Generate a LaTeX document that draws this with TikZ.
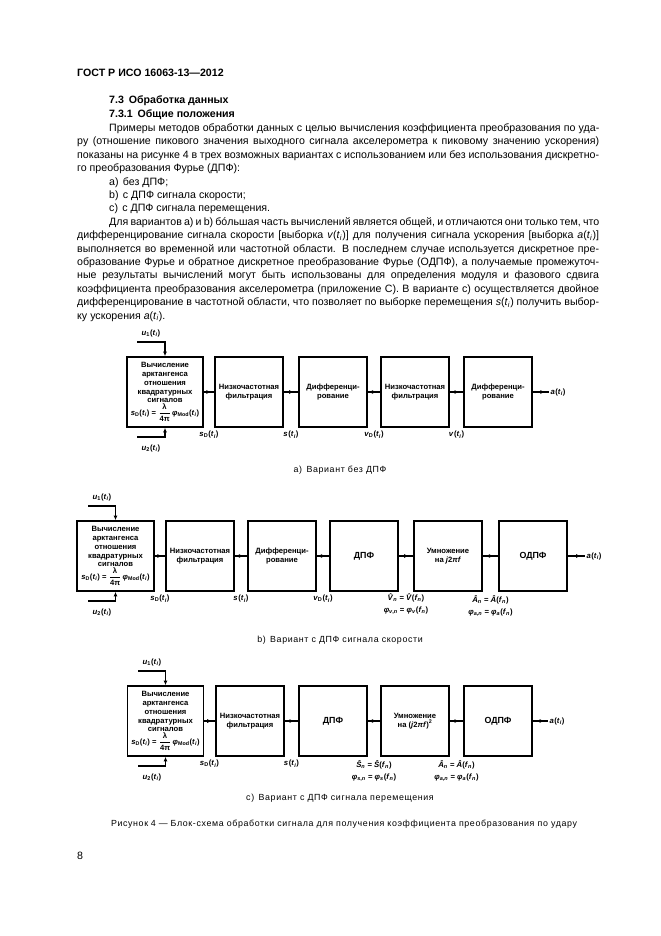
\documentclass[tikz,border=0pt]{standalone}
\usepackage{fontspec}
\usepackage{amsmath}
\setmainfont{Liberation Sans}
\newfontfamily\capfont[LetterSpace=7]{Liberation Sans}
\usetikzlibrary{arrows.meta,decorations.markings}

\tikzset{
	blockbox/.style={draw, line width=1.5pt, minimum width=21.6mm, minimum height=22.2mm, inner sep=1pt, align=center, font=\myfontbox},
	calcbox/.style={blockbox, minimum width=24.1mm},
	bigbox/.style={blockbox, font=\myfontbig},
	conn/.style={line width=1.1pt, postaction={decorate}, decoration={markings, mark=at position #1 with {\arrow{Latex[length=4.2pt,width=3.6pt]}}}},
	conn/.default=0.7,
	feed/.style={line width=1.1pt, -{Latex[length=4.2pt,width=3.6pt]}},
	feedin/.style={line width=1.1pt, {Latex[length=4.2pt,width=3.6pt]}-},
	siglabel/.style={inner sep=0pt, align=center, font=\myfontsig},
	textline/.style={anchor=base west, inner sep=0pt, font=\myfonttext},
	capline/.style={anchor=base, inner sep=0pt, font=\myfontcap}
}

\begin{document}
\begin{tikzpicture}[x=0.3175mm, y=-0.3175mm]
		\newcommand{\myfonttext}{\fontsize{9.6}{12}\selectfont}
		\newcommand{\myfontbox}{\fontsize{6.9}{7.9}\selectfont\bfseries}
		\newcommand{\myfontbig}{\fontsize{8}{9}\selectfont\bfseries}
		\newcommand{\myfontsig}{\fontsize{7}{10.8}\selectfont\bfseries}
		\newcommand{\myfontcap}{\fontsize{8}{10}\capfont}
		\newcommand{\smp}[1]{\textit{#1}(\textit{t}\textsubscript{\textit{i}})}
		\newcommand{\sig}[2]{\textit{#1}\textsubscript{#2}(\textit{t}\textsubscript{\textit{i}})}
		\newcommand{\hatted}[1]{\ooalign{\textit{#1}\cr\hidewidth\raisebox{0.2em}{ˆ}\hidewidth\cr}}
		\newcommand{\spec}[1]{#1\textsubscript{\textit{n}} = #1(\textit{f}\textsubscript{\textit{n}})}
		\newcommand{\phs}[1]{\textit{φ}\textsubscript{\textit{#1},\textit{n}} = \textit{φ}\textsubscript{\textit{#1}}(\textit{f}\textsubscript{\textit{n}})}
		\newcommand{\modform}{\sig{s}{D} = $\dfrac{\text{λ}}{\text{4π}}$\,\textit{φ}\textsubscript{Mod}(\textit{t}\textsubscript{\textit{i}})}
		%Page
		\fill[white] (0,0) rectangle (661,936);
		\useasboundingbox (0,0) rectangle (661,936);
		%Header and headings
		\node (head) [textline, font=\myfonttext\bfseries] at (77,76) {ГОСТ Р ИСО 16063-13—2012};
		\node (sec73) [textline, font=\myfonttext\bfseries] at (109,103.5) {7.3\hspace{0.45em}Обработка данных};
		\node (sec731) [textline, font=\myfonttext\bfseries] at (109,117.5) {7.3.1\hspace{0.45em}Общие положения};
		%Text lines
		\node (ln0) [textline] at (109,131.5) {\makebox[155.6mm][s]{Примеры методов обработки данных с целью вычисления коэффициента преобразования по уда-}};
		\node (ln1) [textline] at (77,144.9) {\makebox[165.7mm][s]{ру (отношение пикового значения выходного сигнала акселерометра к пиковому значению ускорения)}};
		\node (ln2) [textline] at (77,158.3) {\makebox[165.7mm][s]{показаны на рисунке 4 в трех возможных вариантах с использованием или без использования дискретно-}};
		\node (ln3) [textline] at (77,171.7) {го преобразования Фурье (ДПФ):};
		\node (ln4) [textline] at (109,185.1) {a)\hspace{0.4em}без ДПФ;};
		\node (ln5) [textline] at (109,198.5) {b)\hspace{0.4em}с ДПФ сигнала скорости;};
		\node (ln6) [textline] at (109,211.9) {c)\hspace{0.4em}с ДПФ сигнала перемещения.};
		\node (ln7) [textline] at (109,225.3) {\makebox[155.6mm][s]{Для вариантов a) и b) бóльшая часть вычислений является общей, и отличаются они только тем, что}};
		\node (ln8) [textline] at (77,238.7) {\makebox[165.7mm][s]{дифференцирование сигнала скорости [выборка \smp{v}] для получения сигнала ускорения [выборка \smp{a}]}};
		\node (ln9) [textline] at (77,252.1) {\makebox[165.7mm][s]{выполняется во временной или частотной области. В последнем случае используется дискретное пре-}};
		\node (ln10) [textline] at (77,265.5) {\makebox[165.7mm][s]{образование Фурье и обратное дискретное преобразование Фурье (ОДПФ), а получаемые промежуточ-}};
		\node (ln11) [textline] at (77,278.9) {\makebox[165.7mm][s]{ные результаты вычислений могут быть использованы для определения модуля и фазового сдвига}};
		\node (ln12) [textline] at (77,292.3) {\makebox[165.7mm][s]{коэффициента преобразования акселерометра (приложение С). В варианте c) осуществляется двойное}};
		\node (ln13) [textline] at (77,305.7) {\makebox[165.7mm][s]{дифференцирование в частотной области, что позволяет по выборке перемещения \smp{s} получить выбор-}};
		\node (ln14) [textline] at (77,319.1) {ку ускорения \smp{a}.};
		%Variant a) without DFT
		\node (a1) [calcbox] at (165,392) {Вычисление\\арктангенса\\отношения\\квадратурных\\сигналов\\\modform};
		\node (a2) [blockbox] at (249,392) {Низкочастотная\\фильтрация};
		\node (a3) [blockbox] at (333,392) {Дифференци-\\рование};
		\node (a4) [blockbox] at (415,392) {Низкочастотная\\фильтрация};
		\node (a5) [blockbox] at (498,392) {Дифференци-\\рование};
		\coordinate (a_u1) at (137,342);
		\coordinate (a_u2) at (137,437);
		\coordinate (a_out) at (549,392);
		\draw[feed] (a_u1) -| (a1.north);
		\draw[feedin] (a1.south) |- (a_u2);
		\draw[conn] (a1.east) -- (a2.west);
		\draw[conn] (a2.east) -- (a3.west);
		\draw[conn] (a3.east) -- (a4.west);
		\draw[conn] (a4.east) -- (a5.west);
		\draw[conn=0.75] (a5.east) -- (a_out);
		\node (a_lu1) [siglabel] at (151,333) {\sig{u}{1}};
		\node (a_lu2) [siglabel] at (151,448) {\sig{u}{2}};
		\node (a_l1) [siglabel, anchor=north] at (209,431) {\sig{s}{D}};
		\node (a_l2) [siglabel, anchor=north] at (291,431) {\sig{s}{}};
		\node (a_l3) [siglabel, anchor=north] at (374,431) {\sig{v}{D}};
		\node (a_l4) [siglabel, anchor=north] at (456.5,431) {\sig{v}{}};
		\node (a_lout) [siglabel, anchor=west] at (a_out) {\,\sig{a}{}};
		\node (a_cap) [capline] at (340,472) {a)\hspace{0.5em}Вариант без ДПФ};
		%Variant b) with DFT of the velocity signal
		\node (b1) [calcbox, minimum width=24.45mm] at (115.5,556) {Вычисление\\арктангенса\\отношения\\квадратурных\\сигналов\\\modform};
		\node (b2) [blockbox] at (200,556) {Низкочастотная\\фильтрация};
		\node (b3) [blockbox] at (282,556) {Дифференци-\\рование};
		\node (b4) [bigbox] at (364,556) {ДПФ};
		\node (b5) [blockbox] at (448,556) {Умножение\\на \textit{j}2\textit{πf}};
		\node (b6) [bigbox] at (533,556) {ОДПФ};
		\coordinate (b_u1) at (88,506);
		\coordinate (b_u2) at (88,601);
		\coordinate (b_out) at (585,556);
		\draw[feed] (b_u1) -| (b1.north);
		\draw[feedin] (b1.south) |- (b_u2);
		\draw[conn] (b1.east) -- (b2.west);
		\draw[conn] (b2.east) -- (b3.west);
		\draw[conn] (b3.east) -- (b4.west);
		\draw[conn] (b4.east) -- (b5.west);
		\draw[conn] (b5.east) -- (b6.west);
		\draw[conn=0.75] (b6.east) -- (b_out);
		\node (b_lu1) [siglabel] at (102,497) {\sig{u}{1}};
		\node (b_lu2) [siglabel] at (102,612) {\sig{u}{2}};
		\node (b_l1) [siglabel, anchor=north] at (160,595) {\sig{s}{D}};
		\node (b_l2) [siglabel, anchor=north] at (241,595) {\sig{s}{}};
		\node (b_l3) [siglabel, anchor=north] at (323,595) {\sig{v}{D}};
		\node (b_l4) [siglabel, anchor=north] at (406,595) {\spec{\hatted{V}}\\\phs{v}};
		\node (b_l5) [siglabel, anchor=north] at (490.5,595) {\spec{\textit{Â}}\\\phs{a}};
		\node (b_lout) [siglabel, anchor=west] at (b_out) {\,\sig{a}{}};
		\node (b_cap) [capline] at (340,642) {b)\hspace{0.5em}Вариант с ДПФ сигнала скорости};
		%Variant c) with DFT of the displacement signal
		\node (c1) [calcbox] at (165.5,721) {Вычисление\\арктангенса\\отношения\\квадратурных\\сигналов\\\modform};
		\node (c2) [blockbox] at (250,721) {Низкочастотная\\фильтрация};
		\node (c3) [bigbox] at (333,721) {ДПФ};
		\node (c4) [blockbox] at (415,721) {Умножение\\на (\textit{j}2\textit{πf})\textsuperscript{2}};
		\node (c5) [bigbox] at (498,721) {ОДПФ};
		\coordinate (c_u1) at (138,671);
		\coordinate (c_u2) at (138,766);
		\coordinate (c_out) at (548,721);
		\draw[feed] (c_u1) -| (c1.north);
		\draw[feedin] (c1.south) |- (c_u2);
		\draw[conn] (c1.east) -- (c2.west);
		\draw[conn] (c2.east) -- (c3.west);
		\draw[conn] (c3.east) -- (c4.west);
		\draw[conn] (c4.east) -- (c5.west);
		\draw[conn=0.75] (c5.east) -- (c_out);
		\node (c_lu1) [siglabel] at (152,662) {\sig{u}{1}};
		\node (c_lu2) [siglabel] at (152,777) {\sig{u}{2}};
		\node (c_l1) [siglabel, anchor=north] at (209.5,760) {\sig{s}{D}};
		\node (c_l2) [siglabel, anchor=north] at (291.5,760) {\sig{s}{}};
		\node (c_l3) [siglabel, anchor=north] at (374,760) {\spec{\textit{Ŝ}}\\\phs{s}};
		\node (c_l4) [siglabel, anchor=north] at (456.5,760) {\spec{\textit{Â}}\\\phs{a}};
		\node (c_lout) [siglabel, anchor=west] at (c_out) {\,\sig{a}{}};
		\node (c_cap) [capline] at (340,800) {c)\hspace{0.5em}Вариант с ДПФ сигнала перемещения};
		%Figure caption and page number
		\node (figcap) [capline] at (344,826) {Рисунок\hspace{0.3em}4 — Блок-схема обработки сигнала для получения коэффициента преобразования по удару};
		\node (pagenum) [textline] at (77,859) {8};
\end{tikzpicture}
\end{document}
